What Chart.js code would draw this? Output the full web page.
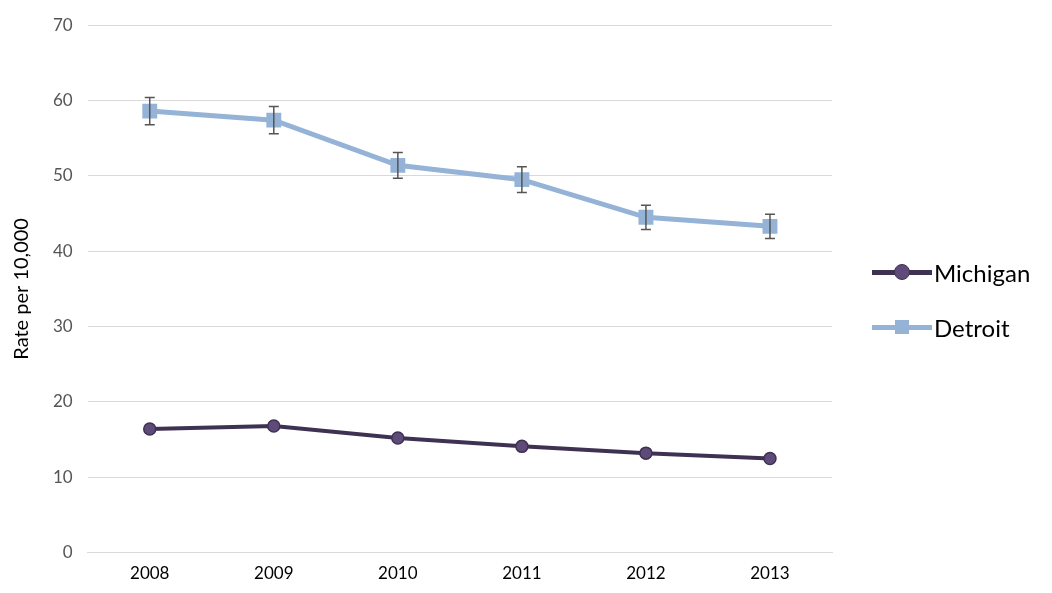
<!DOCTYPE html>
<html><head><meta charset="utf-8">
<script src="https://cdn.jsdelivr.net/npm/chart.js@4"></script>
<style>
body{margin:0;background:#fff;font-family:Lato,"Open Sans",sans-serif}
#wrap{position:relative;width:1052px;height:593px}
.leg{position:absolute;left:872px;font-size:24px;color:#000;display:flex;align-items:center}
.ln{width:60px;height:5px;position:relative;margin-right:2px}
.mk{position:absolute;left:23px;top:-5px;width:14px;height:14px}
</style></head>
<body><div id="wrap"><canvas id="c" width="1052" height="593"></canvas>
<div class="leg" style="top:258px"><div class="ln" style="background:#3f3151"><div class="mk" style="background:#5f4b7a;border:1px solid #3f3151;border-radius:50%;left:22px;top:-6px"></div></div>Michigan</div>
<div class="leg" style="top:313px"><div class="ln" style="background:#95b3d7"><div class="mk" style="background:#95b3d7"></div></div>Detroit</div>
</div>
<script>
// chart values
const years = ['2008','2009','2010','2011','2012','2013'];
const michigan = [16.4, 16.8, 15.2, 14.1, 13.2, 12.5];
const detroit = [58.6, 57.4, 51.4, 49.5, 44.5, 43.3];
const detroitErr = [1.8, 1.8, 1.7, 1.7, 1.6, 1.6];

// error bars for detroit
const errorBars = {
  id:'errorBars',
  afterDatasetsDraw(chart){
    const ctx = chart.ctx, x = chart.scales.x, y = chart.scales.y;
    ctx.save();
    ctx.strokeStyle = '#555'; ctx.lineWidth = 1.5;
    detroit.forEach((v,i)=>{
      const px = x.getPixelForValue(i);
      const t = y.getPixelForValue(v+detroitErr[i]), b = y.getPixelForValue(v-detroitErr[i]);
      ctx.beginPath();
      ctx.moveTo(px,t); ctx.lineTo(px,b);
      ctx.moveTo(px-5,t); ctx.lineTo(px+5,t);
      ctx.moveTo(px-5,b); ctx.lineTo(px+5,b);
      ctx.stroke();
    });
    ctx.restore();
  }
};

new Chart(document.getElementById('c'), {
  type:'line',
  data:{labels:years, datasets:[
    {label:'Michigan', data:michigan, borderColor:'#3f3151', backgroundColor:'#5f4b7a', borderWidth:4,
     pointStyle:'circle', pointRadius:6, pointBorderColor:'#3f3151', pointBorderWidth:1.5, tension:0},
    {label:'Detroit', data:detroit, borderColor:'#95b3d7', backgroundColor:'#95b3d7', borderWidth:5,
     pointStyle:'rect', pointRadius:7, tension:0}
  ]},
  plugins:[errorBars],
  options:{
    responsive:false, animation:false,
    layout:{padding:{left:6, right:220, top:0, bottom:6}},
    plugins:{legend:{display:false}, tooltip:{enabled:false}},
    scales:{
      x:{offset:true, grid:{display:false}, border:{color:'#d9d9d9'},
         ticks:{color:'#000', font:{size:17, family:'Lato'}}},
      y:{min:0, max:70, ticks:{stepSize:10, color:'#555', font:{size:17, family:'Lato'}, padding:15},
         grid:{color:'#d9d9d9', drawTicks:false}, border:{display:false},
         title:{display:true, text:'Rate per 10,000', color:'#000', font:{size:20, family:'Lato'}}}
    }
  }
});
</script></body></html>
